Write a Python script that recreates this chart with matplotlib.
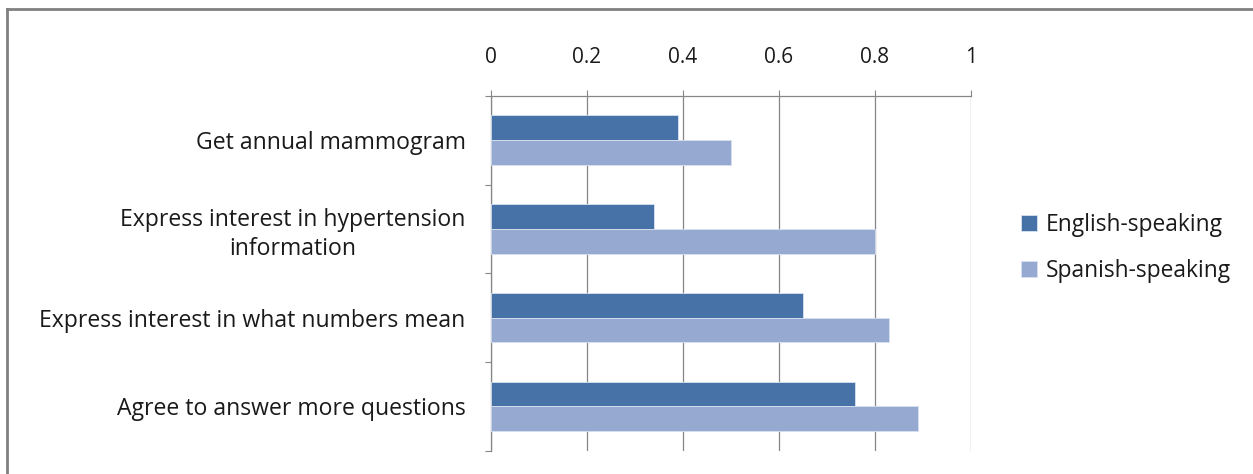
import matplotlib.pyplot as plt
from matplotlib.lines import Line2D

categories = ['Get annual mammogram',
              'Express interest in hypertension\ninformation',
              'Express interest in what numbers mean',
              'Agree to answer more questions']
english = [0.39, 0.34, 0.65, 0.76]
spanish = [0.50, 0.80, 0.83, 0.89]
series_names = ['English-speaking', 'Spanish-speaking']
x_ticks = [0, 0.2, 0.4, 0.6, 0.8, 1]
x_tick_labels = ['0', '0.2', '0.4', '0.6', '0.8', '1']

plt.rcParams['font.family'] = ['Open Sans', 'DejaVu Sans']

fig = plt.figure(figsize=(12.53, 4.74), dpi=100)
ax = fig.add_axes([0.3916, 0.0492, 0.3831, 0.7483])

h = 0.28
pos = range(len(categories))
ax.barh([p - h / 2 for p in pos], english, height=h, color='#4672A8',
        edgecolor='#d8e1f0', linewidth=0.6, label=series_names[0], zorder=3)
ax.barh([p + h / 2 for p in pos], spanish, height=h, color='#95A9D1',
        edgecolor='#d8e1f0', linewidth=0.6, label=series_names[1], zorder=3)

ax.set_xlim(0, 1)
ax.set_ylim(3.5, -0.5)
ax.xaxis.tick_top()
ax.set_xticks(x_ticks)
ax.set_xticklabels(x_tick_labels)
ax.tick_params(axis='x', length=4.5, width=0.8, color='#868686', pad=15.5,
               labelsize=15, labelcolor='#1a1a1a')
ax.set_yticks(list(pos))
ax.set_yticklabels(categories, multialignment='center', linespacing=1.3)
ax.set_yticks([-0.5, 0.5, 1.5, 2.5, 3.5], minor=True)
ax.tick_params(axis='y', which='major', length=0, pad=18, labelsize=16.6,
               labelcolor='#1a1a1a')
ax.tick_params(axis='y', which='minor', length=4, width=0.8, color='#868686')
ax.grid(axis='x', color='#868686', linewidth=0.9, zorder=0)

for side in ['right', 'bottom']:
    ax.spines[side].set_visible(False)
for side in ['left', 'top']:
    ax.spines[side].set_color('#868686')
    ax.spines[side].set_linewidth(0.9)

ax.legend(loc='center left', bbox_to_anchor=(1.062, 0.572), frameon=False,
          fontsize=16.4, handlelength=0.7, handleheight=0.7, handletextpad=0.4,
          labelspacing=0.95, labelcolor='#1a1a1a')

# chart border (only top and left visible in the reference crop)
fig.add_artist(Line2D([0.0056, 1.0], [0.9800, 0.9800], color='#808080',
                      linewidth=2, transform=fig.transFigure))
fig.add_artist(Line2D([0.0056, 0.0056], [0.0, 0.9800], color='#808080',
                      linewidth=2, transform=fig.transFigure))

fig.savefig('out.png', dpi=100)
